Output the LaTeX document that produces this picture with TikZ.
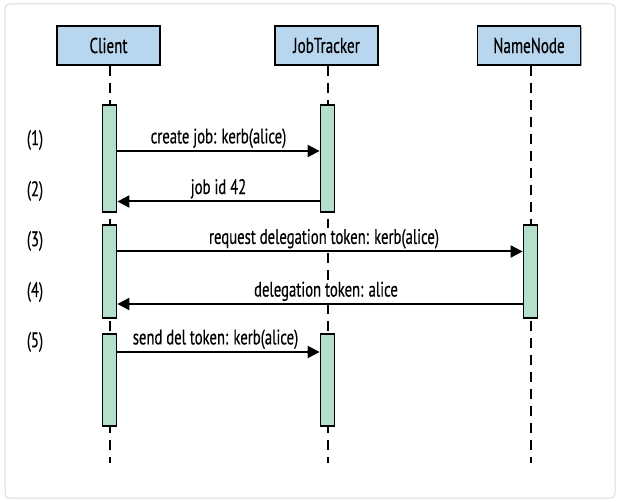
\documentclass[tikz,border=0pt]{standalone}
\usepackage{fontspec}
\setmainfont[FakeStretch=0.70,FakeBold=0.4]{PT Sans}
\usetikzlibrary{arrows.meta,shadows}
\definecolor{boxblue}{HTML}{B8D6EE}
\definecolor{barmint}{HTML}{B4DFCB}
\definecolor{framegray}{HTML}{DCDCDC}
\tikzset{
  actor/.style={draw=black, line width=1.8pt, fill=boxblue, minimum width=103pt, minimum height=39pt,
    inner sep=0pt, font=\fontsize{21.5}{23}\selectfont,
    drop shadow={shadow xshift=1.2pt, shadow yshift=-1.2pt, opacity=0.35, fill=black}},
  actbar/.style={draw=black, line width=1.8pt, fill=barmint, minimum width=14pt, inner sep=0pt},
  lifeline/.style={line width=2pt, dash pattern=on 10pt off 7pt},
  msg/.style={line width=2pt, -{Triangle[length=12pt,width=12pt]}},
  msglabel/.style={fill=white, inner sep=1pt, anchor=south, font=\fontsize{21}{23}\selectfont},
  steplabel/.style={inner sep=0pt, font=\fontsize{21}{23}\selectfont}
}
\begin{document}
\begin{tikzpicture}[x=1pt,y=-1pt]
\useasboundingbox (0,0) rectangle (620,502);
\draw[framegray, line width=1pt, rounded corners=4pt] (5,4) rectangle (615,498);

% actors
\node[actor] (client) at (108.5,45.5) {Client};
\node[actor] (jt) at (326.5,45.5) {JobTracker};
\node[actor] (nn) at (529,45.5) {NameNode};

% lifeline ends
\coordinate (cend) at (109.5,463);
\coordinate (jend) at (327.5,463);
\coordinate (nend) at (530.5,463);
\draw[lifeline] (client.south -| cend) -- (cend);
\draw[lifeline] (jt.south -| jend) -- (jend);
\draw[lifeline] (nn.south -| nend) -- (nend);

% activation bars
\node[actbar, minimum height=107pt] (cb1) at (109.5,158.5) {};
\node[actbar, minimum height=107pt] (jb1) at (327.5,158.5) {};
\node[actbar, minimum height=93pt] (cb2) at (109.5,271.5) {};
\node[actbar, minimum height=93pt] (nb2) at (530.5,271.5) {};
\node[actbar, minimum height=92pt] (cb3) at (109.5,380) {};
\node[actbar, minimum height=92pt] (jb3) at (327.5,380) {};

% arrow levels
\coordinate (y1) at (0,151);
\coordinate (y2) at (0,201.5);
\coordinate (y3) at (0,251.5);
\coordinate (y4) at (0,304);
\coordinate (y5) at (0,352);

% step labels
\node[steplabel] (s1) at (35,140) {(1)};
\node[steplabel] (s2) at (35,191) {(2)};
\node[steplabel] (s3) at (35,241) {(3)};
\node[steplabel] (s4) at (35,292) {(4)};
\node[steplabel] (s5) at (35,342) {(5)};

% messages
\draw[msg] (cb1.east |- y1) -- node[msglabel, yshift=1pt] {create job: kerb(alice)} (jb1.west |- y1);
\draw[msg] (jb1.west |- y2) -- node[msglabel, yshift=1pt] {job id 42} (cb1.east |- y2);
\draw[msg] (cb2.east |- y3) -- node[msglabel, yshift=1pt, xshift=4pt] {request delegation token: kerb(alice)} (nb2.west |- y3);
\draw[msg] (nb2.west |- y4) -- node[msglabel, yshift=1pt, xshift=6pt] {delegation token: alice} (cb2.east |- y4);
\draw[msg] (cb3.east |- y5) -- node[msglabel, yshift=1pt, xshift=-3pt] {send del token: kerb(alice)} (jb3.west |- y5);
\end{tikzpicture}
\end{document}
